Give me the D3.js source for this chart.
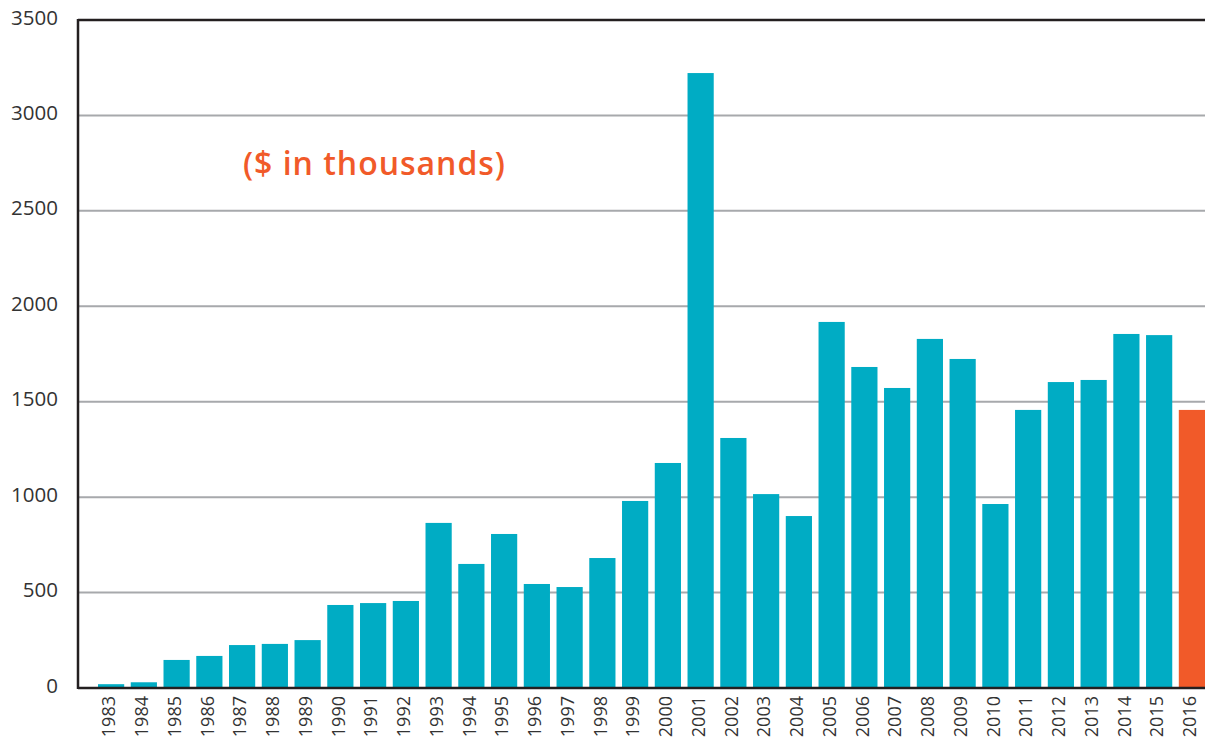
<!DOCTYPE html>
<html>
<head>
<meta charset="utf-8">
<script src="https://cdn.jsdelivr.net/npm/d3@7"></script>
<style>
  body { margin: 0; background: #fff; }
  svg text { font-family: "Open Sans", Lato, sans-serif; }
</style>
</head>
<body>
<svg width="1205" height="740"></svg>
<script>
"use strict"

var years = ["1983","1984","1985","1986","1987","1988","1989","1990","1991","1992",
             "1993","1994","1995","1996","1997","1998","1999","2000","2001","2002",
             "2003","2004","2005","2006","2007","2008","2009","2010","2011","2012",
             "2013","2014","2015","2016"]
var amounts = [20, 30, 147, 168, 225, 231, 251, 435, 445, 456,
               865, 650, 807, 545, 529, 681, 980, 1179, 3222, 1310,
               1016, 901, 1918, 1682, 1572, 1829, 1724, 964, 1457, 1603,
               1614, 1855, 1849, 1457]
var yTicks = [0, 500, 1000, 1500, 2000, 2500, 3000, 3500]
var highlight = "2016"
var note = "($ in thousands)"

var svg = d3.select("svg")
var plotL = 78, plotR = 1205, plotT = 20, plotB = 688

var x = d3.scaleBand()
    .domain(years)
    .range([98, 1205])
    .paddingInner(0.2)
    .paddingOuter(0)

var y = d3.scaleLinear()
    .domain([0, 3500])
    .range([plotB, plotT])

// gridlines
svg.append('g')
    .selectAll('line')
    .data(yTicks.filter(function(d) { return d > 0 && d < 3500 }))
    .join('line')
    .attr('x1', plotL).attr('x2', plotR)
    .attr('y1', function(d) { return y(d) })
    .attr('y2', function(d) { return y(d) })
    .attr('stroke', '#a7a9ac')
    .attr('stroke-width', 2)

// bars
svg.append('g')
    .selectAll('rect')
    .data(years)
    .join('rect')
    .attr('x', function(d) { return x(d) })
    .attr('width', x.bandwidth())
    .attr('y', function(d, i) { return y(amounts[i]) })
    .attr('height', function(d, i) { return plotB - y(amounts[i]) })
    .attr('fill', function(d) { return d === highlight ? '#f15a29' : '#00acc4' })

// frame: top, left, bottom
var frame = svg.append('g').attr('stroke', '#231f20').attr('stroke-width', 2.5)
frame.append('line').attr('x1', plotL).attr('x2', plotR).attr('y1', plotT).attr('y2', plotT)
frame.append('line').attr('x1', plotL).attr('x2', plotL).attr('y1', plotT - 1).attr('y2', plotB + 1)
frame.append('line').attr('x1', plotL).attr('x2', plotR).attr('y1', plotB).attr('y2', plotB)

// y axis labels
var yAxis = d3.axisLeft(y).tickValues(yTicks).tickSize(0).tickPadding(20).tickFormat(d3.format('d'))
var gy = svg.append('g')
    .attr('transform', 'translate(' + plotL + ',0)')
    .call(yAxis)
gy.select('.domain').remove()
gy.selectAll('text')
    .attr('font-size', 20.5)
    .attr('fill', '#333')
    .style('font-family', '"Open Sans", sans-serif')
    .attr('dy', '0.2em')

// x axis labels, rotated
var xAxis = d3.axisBottom(x).tickSize(0)
var gx = svg.append('g')
    .attr('transform', 'translate(0,' + plotB + ')')
    .call(xAxis)
gx.select('.domain').remove()
gx.selectAll('text')
    .attr('transform', 'rotate(-90)')
    .attr('text-anchor', 'end')
    .attr('x', -8)
    .attr('y', -2)
    .attr('dy', '0.35em')
    .attr('font-size', 18)
    .attr('fill', '#333')
    .style('font-family', '"Open Sans", sans-serif')

svg.append('text')
    .attr('x', 243)
    .attr('y', 175)
    .attr('fill', '#f15a29')
    .attr('font-size', 32)
    .attr('font-weight', 600)
    .attr('textLength', 262)
    .attr('lengthAdjust', 'spacing')
    .text(note)
</script>
</body>
</html>
